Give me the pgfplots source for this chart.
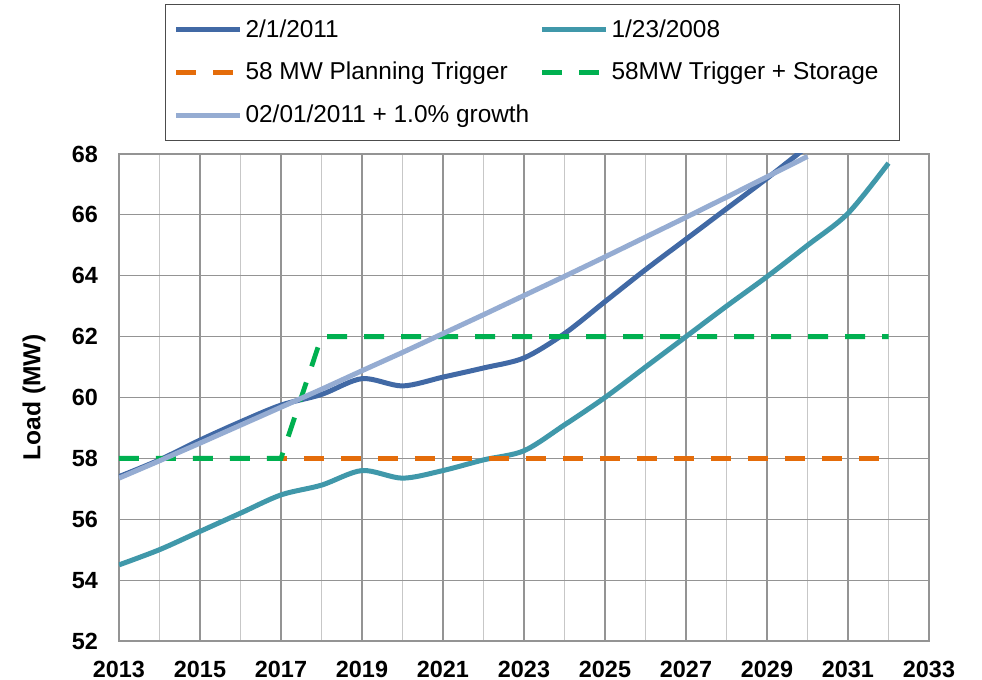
\documentclass[border=0pt]{standalone}
\usepackage{pgfplots}
\pgfplotsset{compat=1.18}
\usepackage{fontspec}
\setmainfont{Liberation Sans}
\definecolor{cDark}{RGB}{65,105,165}
\definecolor{cTeal}{RGB}{64,152,170}
\definecolor{cOrange}{RGB}{228,108,10}
\definecolor{cGreen}{RGB}{0,176,80}
\definecolor{cLight}{RGB}{149,172,210}
\begin{document}
\begin{tikzpicture}
\begin{axis}[
  scale only axis, width=405pt, height=243.5pt,
  xmin=2013, xmax=2033, ymin=52, ymax=68,
  xtick={2013,2015,...,2033},
  minor xtick={2014,2016,...,2032},
  ytick={52,54,...,68},
  grid=both,
  major grid style={draw=black!42, line width=0.6pt},
  minor grid style={draw=black!22, line width=0.6pt},
  axis line style={draw=black!42, line width=0.6pt},
  major tick length=0pt, minor tick length=0pt,
  /pgf/number format/assume math mode=true,
  /pgf/number format/1000 sep={},
  ticklabel style={font=\fontsize{11.7}{14}\selectfont\bfseries},
  xticklabel style={yshift=-6.5pt},
  yticklabel style={xshift=-7pt},
  ylabel={Load (MW)},
  ylabel style={font=\fontsize{12.3}{14}\selectfont\bfseries, at={(axis description cs:-0.105,0.5)}, anchor=center},
  legend columns=2,
  legend style={at={(axis description cs:0.0568,1.308)}, anchor=north west,
    draw=black!70, line width=0.6pt, font=\fontsize{12.2}{14}\selectfont,
    row sep=7pt, inner xsep=4pt, inner ysep=5.5pt, cells={anchor=west},
    nodes={inner xsep=1.5pt}},
  legend image code/.code={\draw[#1] (0pt,0pt) -- (32pt,0pt);},
]
\coordinate (bl) at (rel axis cs:0,0);
\coordinate (tr) at (rel axis cs:1,1);
\addplot[cDark, line width=2.5pt, smooth] coordinates {
(2013,57.4) (2014,57.95) (2015,58.6) (2016,59.2) (2017,59.75) (2018,60.1)
(2019,60.62) (2020,60.38) (2021,60.67) (2022,60.97) (2023,61.3) (2024,62.1)
(2025,63.15) (2026,64.2) (2027,65.2) (2028,66.2) (2029,67.2) (2030,68.25)};
\addlegendentry{\makebox[145.5pt][l]{2/1/2011}}
\addplot[cTeal, line width=2.5pt, smooth] coordinates {
(2013,54.5) (2014,55.0) (2015,55.6) (2016,56.2) (2017,56.8) (2018,57.12)
(2019,57.6) (2020,57.35) (2021,57.6) (2022,57.95) (2023,58.25) (2024,59.1)
(2025,60.0) (2026,61.0) (2027,62.0) (2028,63.0) (2029,63.97) (2030,65.0)
(2031,66.05) (2032,67.7)};
\addlegendentry{\makebox[138.5pt][l]{1/23/2008}}
\addplot[cOrange, line width=2.4pt, dash pattern=on 10pt off 8.5pt] coordinates {
(2013,58) (2032,58)};
\addlegendentry{58 MW Planning Trigger}
\addplot[cGreen, line width=2.4pt, dash pattern=on 10pt off 8.5pt] coordinates {
(2013,58) (2017,58) (2018,62) (2032,62)};
\addlegendentry{58MW Trigger + Storage}
\addplot[cLight, line width=2.5pt] coordinates {
(2013,57.35) (2014,57.92) (2015,58.50) (2016,59.09) (2017,59.68) (2018,60.27)
(2019,60.88) (2020,61.48) (2021,62.10) (2022,62.72) (2023,63.35) (2024,63.98)
(2025,64.62) (2026,65.27) (2027,65.92) (2028,66.58) (2029,67.25) (2030,67.92)};
\addlegendentry{02/01/2011 + 1.0\% growth}
\end{axis}
\pgfresetboundingbox
\path ([xshift=-59.5pt,yshift=-19.5pt]bl) rectangle ([xshift=26.5pt,yshift=77pt]tr);
\end{tikzpicture}
\end{document}
